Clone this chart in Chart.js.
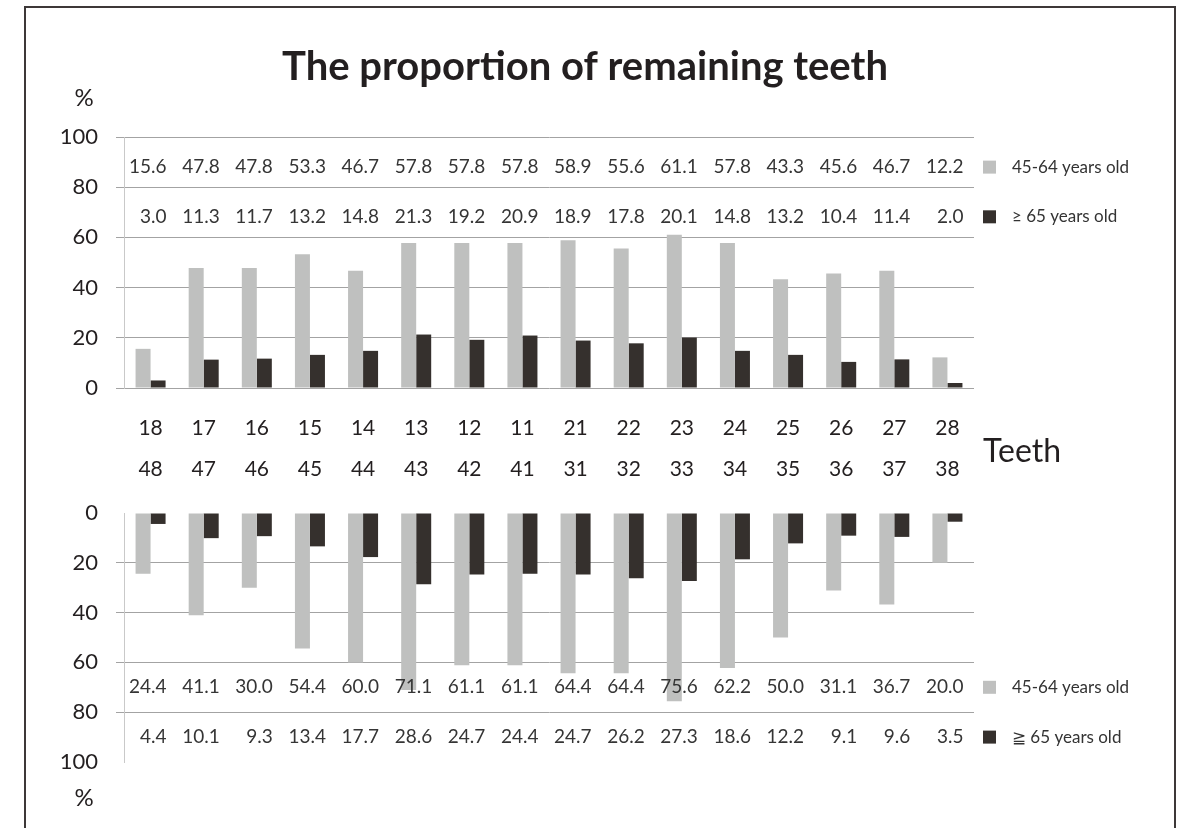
<!DOCTYPE html>
<html>
<head>
<meta charset="utf-8">
<script src="https://cdn.jsdelivr.net/npm/chart.js@4.4.1/dist/chart.umd.min.js"></script>
<style>
  html, body { margin: 0; padding: 0; background: #fff; overflow: hidden; }
  #wrap { position: relative; width: 1183px; height: 828px; }
  #frame { position: absolute; left: 24px; top: 6px; width: 1148px; height: 900px; border: 2px solid #3d3838; }
  canvas { position: absolute; left: 0; top: 0; }
</style>
</head>
<body>
<div id="wrap">
  <div id="frame"></div>
  <canvas id="chart-upper" width="1183" height="828"></canvas>
  <canvas id="chart-lower" width="1183" height="828"></canvas>
</div>
<script>
// tooth numbers, upper jaw on top row, lower jaw below
var upperTeeth = ["18", "17", "16", "15", "14", "13", "12", "11", "21", "22", "23", "24", "25", "26", "27", "28"];
var lowerTeeth = ["48", "47", "46", "45", "44", "43", "42", "41", "31", "32", "33", "34", "35", "36", "37", "38"];

// % remaining, upper jaw
var upper4564 = [15.6, 47.8, 47.8, 53.3, 46.7, 57.8, 57.8, 57.8, 58.9, 55.6, 61.1, 57.8, 43.3, 45.6, 46.7, 12.2];
var upper65 = [3.0, 11.3, 11.7, 13.2, 14.8, 21.3, 19.2, 20.9, 18.9, 17.8, 20.1, 14.8, 13.2, 10.4, 11.4, 2.0];

// % remaining, lower jaw
var lower4564 = [24.4, 41.1, 30.0, 54.4, 60.0, 71.1, 61.1, 61.1, 64.4, 64.4, 75.6, 62.2, 50.0, 31.1, 36.7, 20.0];
var lower65 = [4.4, 10.1, 9.3, 13.4, 17.7, 28.6, 24.7, 24.4, 24.7, 26.2, 27.3, 18.6, 12.2, 9.1, 9.6, 3.5];

var yTicks = [0, 20, 40, 60, 80, 100];

var LIGHT = "#bfc0bf";
var DARK = "#35302d";
var GRID = "#a3a3a3";
var TEXT = "#231f20";

// data table rows + legend keys drawn beside the bars, plus loose texts
var tablePlugin = {
  id: "tableRows",
  afterDatasetsDraw: function (chart, args, opts) {
    var ctx = chart.ctx;
    var x = chart.scales.x;
    var y = chart.scales.y;
    var right = chart.chartArea.right;
    ctx.save();
    ctx.textBaseline = "middle";
    opts.rows.forEach(function (row, i) {
      var ds = chart.data.datasets[i];
      var py = y.getPixelForValue(row.at);
      ctx.font = "19px Lato";
      ctx.fillStyle = "#353535";
      ctx.textAlign = "right";
      ds.data.forEach(function (v, j) {
        ctx.fillText(v.toFixed(1), x.getPixelForValue(j) + 16, py);
      });
      ctx.fillStyle = ds.backgroundColor;
      ctx.fillRect(right + 9, py - 6.5, 13, 13);
      ctx.fillStyle = "#333";
      ctx.textAlign = "left";
      ctx.font = "17px Lato";
      ctx.fillText(row.legend, right + 38, py, 120);
    });
    (opts.texts || []).forEach(function (t) {
      ctx.font = t.font;
      ctx.fillStyle = TEXT;
      ctx.textAlign = t.align;
      ctx.textBaseline = t.base;
      if (t.maxWidth) ctx.fillText(t.text, t.x, t.y, t.maxWidth);
      else ctx.fillText(t.text, t.x, t.y);
    });
    ctx.restore();
  }
};

function yScale(reverse) {
  return {
    min: 0,
    max: 100,
    reverse: reverse,
    afterBuildTicks: function (scale) {
      scale.ticks = yTicks.map(function (v) { return { value: v }; });
    },
    afterFit: function (scale) { scale.width = 124; },
    border: { display: true, color: "#c9c9c9", width: 1 },
    grid: {
      color: function (c) {
        if (reverse && c.tick && (c.tick.value === 0 || c.tick.value === 100)) return "rgba(0,0,0,0)";
        return GRID;
      },
      tickLength: 8,
      lineWidth: 1
    },
    ticks: {
      padding: 18,
      color: TEXT,
      font: { family: "Lato", size: 22 }
    }
  };
}

function barSets(a, b) {
  return [
    { label: "45-64 years old", data: a, backgroundColor: LIGHT, categoryPercentage: 0.565, barPercentage: 1.0 },
    { label: "\u2265 65 years old", data: b, backgroundColor: DARK, categoryPercentage: 0.565, barPercentage: 1.0 }
  ];
}

new Chart(document.getElementById("chart-upper"), {
  type: "bar",
  data: {
    labels: upperTeeth.map(function (t, i) { return [t, lowerTeeth[i]]; }),
    datasets: barSets(upper4564, upper65)
  },
  options: {
    responsive: false,
    devicePixelRatio: 1,
    animation: false,
    layout: { padding: { top: 137, right: 209, left: 0, bottom: 0 } },
    plugins: {
      legend: { display: false },
      tooltip: { enabled: false },
      tableRows: {
        rows: [
          { at: 88, legend: "45-64 years old" },
          { at: 68.2, legend: "\u2265 65 years old" }
        ],
        texts: [
          { text: "The proportion of remaining teeth", x: 585, y: 80, font: "bold 40px Lato", align: "center", base: "alphabetic", maxWidth: 622 },
          { text: "%", x: 84, y: 98, font: "24px Lato", align: "center", base: "middle" },
          { text: "Teeth", x: 983, y: 452, font: "32px Lato", align: "left", base: "middle" }
        ]
      }
    },
    scales: {
      x: {
        afterFit: function (scale) { scale.height = 440; },
        border: { display: false },
        grid: { display: false, drawTicks: false },
        ticks: {
          padding: 20,
          color: TEXT,
          maxRotation: 0,
          font: { family: "Lato", size: 21, lineHeight: 41 / 21 }
        }
      },
      y: yScale(false)
    }
  },
  plugins: [tablePlugin]
});

new Chart(document.getElementById("chart-lower"), {
  type: "bar",
  data: {
    labels: lowerTeeth,
    datasets: barSets(lower4564, lower65)
  },
  options: {
    responsive: false,
    devicePixelRatio: 1,
    animation: false,
    layout: { padding: { top: 513, right: 209, left: 0, bottom: 66 } },
    plugins: {
      legend: { display: false },
      tooltip: { enabled: false },
      tableRows: {
        rows: [
          { at: 70, legend: "45-64 years old" },
          { at: 90, legend: "\u2267 65 years old" }
        ],
        texts: [
          { text: "%", x: 84, y: 798, font: "24px Lato", align: "center", base: "middle" }
        ]
      }
    },
    scales: {
      x: { display: false },
      y: yScale(true)
    }
  },
  plugins: [tablePlugin]
});
</script>
</body>
</html>
